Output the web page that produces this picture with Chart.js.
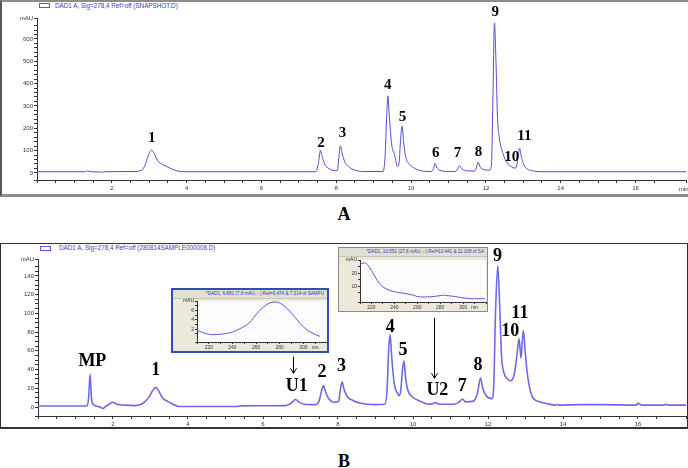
<!DOCTYPE html>
<html>
<head>
<meta charset="utf-8">
<script src="https://cdn.jsdelivr.net/npm/chart.js@4.4.1/dist/chart.umd.min.js"></script>
<style>
body{margin:0;width:688px;height:468px;position:relative;background:#fff;overflow:hidden;font-family:"Liberation Sans",Arial,sans-serif}
canvas{position:absolute}
.abs{position:absolute;box-sizing:border-box}
.legend{position:absolute;font-size:6.3px;color:#3b3bc8;white-space:nowrap;line-height:8px}
.swatch{position:absolute;width:11px;height:5px;border:1px solid #5a5ae0;box-sizing:border-box}
.panel{position:absolute;left:0;width:688px;text-align:center;font:bold 18px "Liberation Serif",serif;color:#000}
.inset{position:absolute;box-sizing:border-box;background:#ece9da}
.ititle{position:absolute;left:0;right:0;top:0;height:8px;line-height:8px;font-size:4.6px;color:#3040b8;text-align:right;padding-right:3px;background:#e2dfd3;border-bottom:1px solid #c9c6b9;white-space:nowrap;overflow:hidden}
</style>
</head>
<body>

<div class="abs" style="left:0;top:0;width:688px;height:197px;border-top:2px solid #8c8c8c;border-bottom:3px solid #8c8c8c;border-left:2px solid #555"></div>
<div class="abs" style="left:0;top:243px;width:688px;height:186px;border:1px solid #333;border-bottom:2px solid #333"></div>

<div class="swatch" style="left:39px;top:3px"></div>
<div class="legend" style="left:55px;top:2px">DAD1 A, Sig=278,4 Ref=off (SNAPSHOT.D)</div>
<div class="swatch" style="left:40px;top:246px"></div>
<div class="legend" style="left:59px;top:244px">DAD1 A, Sig=278,4 Ref=off (280814SAMPLE000008.D)</div>

<canvas id="chartA" width="688" height="196" style="left:0;top:0"></canvas>
<canvas id="chartB" width="688" height="186" style="left:0;top:243px"></canvas>

<div class="inset" style="left:171px;top:288px;width:158px;height:65px;border:2px solid #2f4fb0">
  <div class="ititle">*DAD1, 6.881 (7.8 mAU, - ) Ref=6.474 &amp; 7.314 of SAMPU</div>
</div>
<div class="inset" style="left:338px;top:247px;width:150px;height:65px;border:1px solid #8a8a8a">
  <div class="ititle">*DAD1, 10.551 (27.8 mAU, - ) Ref=10.441 &amp; 11.108 of SA</div>
</div>
<canvas id="spec1" width="156" height="55" style="left:172px;top:297px"></canvas>
<canvas id="spec2" width="148" height="55" style="left:339px;top:256px"></canvas>

<div class="panel" style="top:204px">A</div>
<div class="panel" style="top:451px">B</div>

<script>
// chromatogram A (reference standard), time in min, signal in mAU
const timeA = [0, 1.30, 1.36, 1.42, 1.70, 1.74, 1.80, 2.60, 2.75, 2.88, 2.98, 3.06, 3.14, 3.22, 3.35, 3.50, 3.65, 3.80, 4.00,
  7.45, 7.52, 7.58, 7.63, 7.70, 7.80, 7.95, 8.03, 8.07, 8.11, 8.16, 8.24, 8.35, 8.50, 8.70,
  9.25, 9.30, 9.35, 9.38, 9.42, 9.48, 9.56, 9.64, 9.68, 9.72, 9.76, 9.80, 9.86, 9.95, 10.10, 10.30,
  10.55, 10.60, 10.64, 10.70, 10.80, 11.00, 11.20, 11.25, 11.29, 11.35, 11.50, 11.70, 11.75, 11.79, 11.85, 11.95,
  12.10, 12.15, 12.19, 12.23, 12.27, 12.31, 12.36, 12.45, 12.55, 12.65, 12.75, 12.80, 12.85, 12.90, 12.95,
  13.02, 13.10, 13.25, 13.50, 17.35];
const mauA = [5, 5, 9, 5, 4, 2, 5, 6, 9, 30, 80, 102, 85, 55, 38, 26, 14, 7, 5,
  5, 40, 100, 70, 35, 20, 10, 12, 70, 122, 85, 45, 25, 12, 6,
  6, 60, 260, 345, 250, 130, 80, 28, 45, 150, 210, 140, 70, 40, 20, 8,
  6, 20, 42, 20, 10, 6, 7, 20, 33, 20, 9, 8, 25, 47, 25, 15,
  12, 40, 350, 672, 500, 250, 157, 90, 50, 32, 22, 22, 60, 111, 70,
  35, 18, 9, 5, 5];

// chromatogram B (sample)
const timeB = [0, 1.30, 1.35, 1.39, 1.43, 1.50, 1.65, 1.73, 1.80, 1.90, 1.98, 2.10, 2.30, 2.60, 2.80, 2.95, 3.05, 3.14, 3.22, 3.32, 3.45, 3.60, 3.75,
  5.30, 5.40, 6.60, 6.75, 6.87, 6.97, 7.10, 7.40, 7.50, 7.56, 7.61, 7.66, 7.75, 7.90, 8.02, 8.06, 8.11, 8.16, 8.25, 8.40, 8.60, 9.00,
  9.25, 9.31, 9.35, 9.39, 9.43, 9.50, 9.58, 9.64, 9.68, 9.72, 9.76, 9.80, 9.87, 9.98, 10.20, 10.43, 10.55, 10.60, 10.70,
  11.10, 11.25, 11.32, 11.40, 11.60, 11.72, 11.80, 11.86, 11.95, 12.10, 12.15, 12.20, 12.26, 12.31, 12.36, 12.43, 12.52,
  12.60, 12.70, 12.77, 12.83, 12.88, 12.94, 12.99, 13.05, 13.18, 13.35, 13.54, 13.80, 13.84, 13.90, 14.43, 15.10,
  15.95, 16.00, 16.10, 16.70, 16.75, 16.80, 17.28];
const mauB = [1, 1, 10, 35, 8, 2, 0, -1.5, 0.5, 3, 5, 3, 2, 1.5, 4, 10, 17, 21, 17, 10, 6, 3, 0.5,
  0.5, 1.2, 1.5, 4, 8, 5, 3, 2.5, 7, 17, 23, 17, 9, 5, 6, 18, 27, 19, 11, 7, 4, 2.5,
  3, 20, 60, 77, 55, 25, 15, 12, 20, 40, 49, 32, 17, 11, 6, 3, 4, 4.5, 3,
  3, 6, 8.5, 5.5, 6, 15, 31, 20, 12, 9, 20, 100, 151, 110, 55, 36, 30,
  28, 35, 55, 73, 52, 82, 60, 35, 11, 6, 4, 2, 3, 2, 2.5, 2.5,
  2, 4, 2, 2, 3, 2, 2];

// peak labels (label, time, mAU of label centre)
const peaksA = ['1', '2', '3', '4', '5', '6', '7', '8', '9', '10', '11'];
const peakTimeA = [3.07, 7.59, 8.17, 9.38, 9.77, 10.66, 11.24, 11.80, 12.25, 12.69, 13.03];
const peakMauA = [155, 133, 178, 394, 249, 88, 88, 91, 722, 70, 163];

const peaksB = ['MP', '1', 'U1', '2', '3', '4', '5', 'U2', '7', '8', '9', '10', '11'];
const peakTimeB = [1.45, 3.14, 6.90, 7.57, 8.09, 9.39, 9.73, 10.65, 11.31, 11.73, 12.25, 12.59, 12.85];
const peakMauB = [48.5, 39.6, 21.7, 37, 43, 85, 61, 18, 21.7, 45, 160.7, 80.5, 100];

// arrows pointing at the unknowns: time, from mAU, to mAU
const arrowTime = [6.81, 10.56];
const arrowFrom = [53.8, 95];
const arrowTo = [36, 30.7];

// UV spectra of U1 and U2 (nm, mAU)
const nm1 = [210, 216, 223, 230, 240, 247, 254, 262, 270, 277, 285, 290, 295, 300, 306, 314];
const spec1 = [1.8, 1.2, 0.85, 0.95, 1.4, 2.2, 3.3, 5.7, 7.4, 7.8, 6.7, 5.4, 3.9, 2.5, 1.4, 0.5];
const nm2 = [210, 214, 217, 220, 224, 228, 232, 237, 242, 250, 256, 260, 266, 272, 278, 283, 287, 293, 298, 303, 310, 319];
const spec2 = [27, 27.8, 26, 22, 16, 11, 8.5, 6.5, 5.5, 4.4, 3.3, 2.2, 1.8, 2.0, 2.6, 3.2, 2.8, 2.2, 1.4, 0.8, 0.5, 0.6];

const pts = (xs, ys) => xs.map((x, i) => ({x: x, y: ys[i]}));
const near = (a, b) => Math.abs(a - b) < 1e-6;

Chart.defaults.font.family = '"Liberation Sans", Arial, sans-serif';
Chart.defaults.color = '#333';

// peak numbers, arrows and the "min" unit label
Chart.register({
  id: 'marks',
  afterDraw(chart, args, opts) {
    if (!opts || !opts.labels) return;
    const ctx = chart.ctx, xs = chart.scales.x, ys = chart.scales.y;
    ctx.save();
    ctx.fillStyle = '#000';
    ctx.font = 'bold ' + opts.size + 'px "Liberation Serif", serif';
    ctx.textAlign = 'center';
    ctx.textBaseline = 'middle';
    opts.labels.forEach((t, i) => {
      ctx.fillText(t, xs.getPixelForValue(opts.tx[i]), ys.getPixelForValue(opts.ty[i]));
    });
    (opts.arrows || []).forEach(a => {
      const x = Math.round(xs.getPixelForValue(a[0])) + 0.5;
      const y1 = ys.getPixelForValue(a[1]), y2 = ys.getPixelForValue(a[2]);
      ctx.strokeStyle = '#000';
      ctx.lineWidth = 1;
      ctx.beginPath();
      ctx.moveTo(x, y1); ctx.lineTo(x, y2);
      ctx.moveTo(x - 3, y2 - 5); ctx.lineTo(x, y2); ctx.lineTo(x + 3, y2 - 5);
      ctx.stroke();
    });
    if (opts.unit) {
      ctx.font = '6px "Liberation Sans", Arial, sans-serif';
      ctx.fillStyle = '#333';
      ctx.textAlign = 'left';
      ctx.fillText(opts.unit, chart.chartArea.right - 7, chart.chartArea.bottom + 9);
    }
    ctx.restore();
  }
});

// white plot area inside the spectrum windows
Chart.register({
  id: 'plotBg',
  beforeDraw(chart, args, opts) {
    if (!opts || !opts.color) return;
    const a = chart.chartArea;
    chart.ctx.save();
    chart.ctx.fillStyle = opts.color;
    chart.ctx.fillRect(a.left, a.top, a.right - a.left, a.bottom - a.top);
    chart.ctx.restore();
  }
});

function axis(c) {
  return {
    type: 'linear', min: c.min, max: c.max,
    afterFit: c.fit,
    border: {color: '#333', width: 1},
    grid: {drawOnChartArea: false, drawTicks: true, tickLength: c.tick || 3, color: '#333'},
    ticks: {stepSize: c.step, autoSkip: false, maxRotation: 0, padding: c.pad || 1,
      font: {size: c.font || 6}, color: '#333', callback: c.label}
  };
}

function chrom(id, xs, ys, color, width, cfg) {
  return new Chart(document.getElementById(id), {
    type: 'line',
    data: {datasets: [{data: pts(xs, ys), borderColor: color, borderWidth: width,
      pointRadius: 0, cubicInterpolationMode: 'monotone', fill: false}]},
    options: {
      responsive: false, animation: false, events: [],
      layout: {padding: {top: cfg.top, right: 1, left: 0, bottom: 0}},
      scales: {
        x: axis({min: 0, max: cfg.xmax, step: 0.5, pad: 2, fit: s => { s.height = cfg.xh; },
          label: v => (v > 0.1 && near(v, Math.round(v / 2) * 2)) ? Math.round(v) : ''}),
        y: axis({min: cfg.ymin, max: cfg.ymax, step: cfg.ystep, fit: s => { s.width = cfg.yw; },
          label: (v, i, t) => i === t.length - 1 ? 'mAU' :
            (v >= 0 && near(v, Math.round(v / cfg.ylab) * cfg.ylab) ? Math.round(v) : '')})
      },
      plugins: {legend: {display: false}, tooltip: {enabled: false},
        marks: cfg.marks}
    }
  });
}

chrom('chartA', timeA, mauA, '#4f4fd2', 1, {
  top: 18, xh: 16, yw: 37, xmax: 17.35, ymin: -32, ymax: 694, ystep: 20, ylab: 100,
  marks: {labels: peaksA, tx: peakTimeA, ty: peakMauA, size: 15, unit: 'min'}
});

chrom('chartB', timeB, mauB, '#6b6be6', 1.6, {
  top: 16, xh: 13, yw: 38, xmax: 17.28, ymin: -9.6, ymax: 158, ystep: 5, ylab: 20,
  marks: {labels: peaksB, tx: peakTimeB, ty: peakMauB, size: 18,
    arrows: arrowTime.map((t, i) => [t, arrowFrom[i], arrowTo[i]])}
});

function spectrum(id, xs, ys, cfg) {
  return new Chart(document.getElementById(id), {
    type: 'line',
    data: {datasets: [{data: pts(xs, ys), borderColor: '#5a5ade', borderWidth: 1,
      pointRadius: 0, cubicInterpolationMode: 'monotone', fill: false}]},
    options: {
      responsive: false, animation: false, events: [],
      layout: {padding: {top: cfg.top, right: cfg.right, left: 0, bottom: 0}},
      scales: {
        x: axis({min: 210, max: 320, step: 10, tick: 2, font: 5, fit: s => { s.height = cfg.xh; },
          label: v => near(v, 310) ? 'nm' :
            ((v > 215 && v < 305 && near(v, Math.round(v / 20) * 20)) ? Math.round(v) : '')}),
        y: axis({min: cfg.ymin, max: cfg.ymax, step: cfg.ystep, tick: 2, font: 5, fit: s => { s.width = cfg.yw; },
          label: (v, i, t) => i === t.length - 1 ? 'mAU' :
            (v >= 0 && near(v, Math.round(v / cfg.ylab) * cfg.ylab) ? Math.round(v) : '')})
      },
      plugins: {legend: {display: false}, tooltip: {enabled: false},
        plotBg: {color: '#fbfbfb'}}
    }
  });
}

spectrum('spec1', nm1, spec1, {top: 4, right: 0, xh: 10, yw: 25,
  ymin: -0.7, ymax: 8, ystep: 1, ylab: 2});
spectrum('spec2', nm2, spec2, {top: 3, right: 1, xh: 9, yw: 21,
  ymin: -2, ymax: 30, ystep: 5, ylab: 10});
</script>
</body>
</html>
